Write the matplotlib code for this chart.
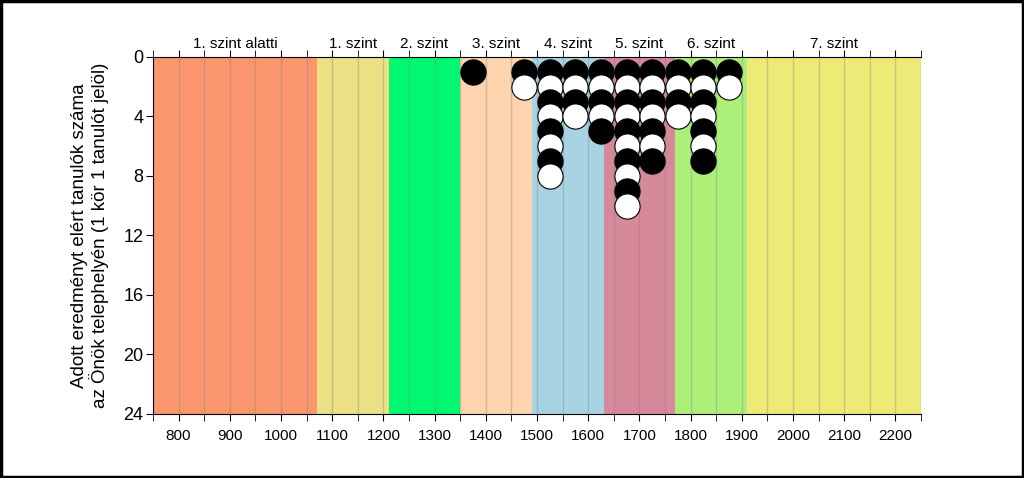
import numpy as np
import matplotlib
matplotlib.use("Agg")
import matplotlib.pyplot as plt
from matplotlib.patches import Rectangle

plt.rcParams['font.family'] = ['Liberation Sans', 'DejaVu Sans']

# kepessegszintek
level_names = ["1. szint alatti", "1. szint", "2. szint", "3. szint",
               "4. szint", "5. szint", "6. szint", "7. szint"]
level_edges = [750, 1071, 1210, 1350, 1490, 1630, 1770, 1910, 2250]
level_colors = ["#FA966E", "#EBE083", "#00F772", "#FDD4AE",
                "#A8D3E3", "#D6899A", "#ACF07A", "#EEEA78"]

# tanulok szama pontszam-savonkent (50 pontos savok kozepe)
col_x = [1375, 1475, 1525, 1575, 1625, 1675, 1725, 1775, 1825, 1875]
col_counts = [1, 2, 8, 4, 5, 10, 7, 4, 7, 2]

fig = plt.figure(figsize=(10.24, 4.78), dpi=100)
ax = fig.add_axes([0.1494, 0.1339, 0.75, 0.7469])

for i in range(len(level_names)):
    ax.axvspan(level_edges[i], level_edges[i + 1], color=level_colors[i], lw=0, zorder=0)
    mid = (level_edges[i] + level_edges[i + 1]) / 2
    ax.text(mid, -0.4, level_names[i], ha='center', va='bottom', fontsize=11)

for g in np.arange(750, 2251, 50):
    ax.axvline(g, color='#808080', alpha=0.35, lw=1, zorder=1)

maxn = max(col_counts)
for k in range(1, maxn + 1):
    xs = [x for x, n in zip(col_x, col_counts) if n >= k]
    if not xs:
        continue
    fc = 'black' if k % 2 == 1 else 'white'
    ax.scatter(xs, [k] * len(xs), s=330, facecolor=fc, edgecolor='black',
               linewidths=0.8, zorder=2 + k, clip_on=False)

ax.set_xlim(750, 2250)
ax.set_ylim(24, 0)
ax.set_xticks(np.arange(800, 2201, 100))
ax.set_xticks(np.arange(750, 2251, 50), minor=True)
ax.set_yticks(np.arange(0, 25, 4))
ax.tick_params(axis='x', which='both', direction='out', length=5, top=True,
               labeltop=False, labelsize=11, pad=6)
ax.tick_params(axis='y', direction='out', length=5, labelsize=13, pad=2)
ax.spines['right'].set_visible(False)
ax.set_ylabel("Adott eredményt elért tanulók száma\naz Önök telephelyén (1 kör 1 tanulót jelöl)",
              fontsize=13.5, labelpad=10, linespacing=1.05)

fig.add_artist(Rectangle((0.001, 0.002), 0.998, 0.996, transform=fig.transFigure,
                         fill=False, edgecolor='black', lw=2.5))

fig.savefig("out.png", dpi=100)
